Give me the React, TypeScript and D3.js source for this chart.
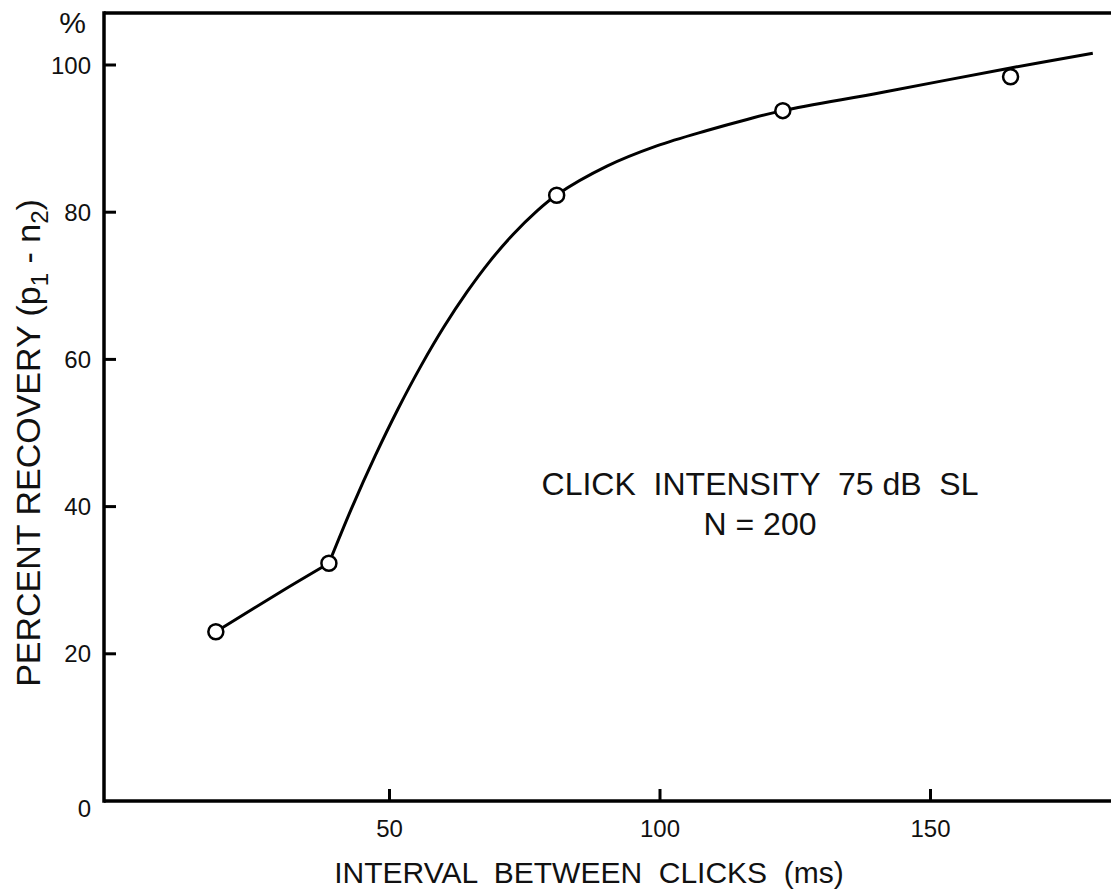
import React from "react";
import * as d3 from "d3";

// Measured data points (interval ms, percent recovery)
const POINT_X = [17.9, 38.8, 80.9, 122.7, 164.8];
const POINT_Y = [23.0, 32.3, 82.3, 93.8, 98.4];

// Hand-fitted curve: lower segment and upper segment (kink at second point)
const CURVE_LOW_X = [17.9, 30.3, 38.8];
const CURVE_LOW_Y = [23.0, 28.6, 32.3];
const CURVE_HIGH_X = [38.8, 43.07, 47.32, 51.57, 55.82, 60.07, 64.33, 68.58, 72.83, 77.08, 80.96, 90.2, 99.4, 108.7, 116.1, 122.7, 141.2, 164.8, 180.0];
const CURVE_HIGH_Y = [32.3, 39.9, 46.85, 53.26, 59.12, 64.43, 69.17, 73.36, 76.98, 80.05, 82.37, 86.25, 89.0, 91.1, 92.6, 93.8, 96.3, 99.6, 101.6];

const X_TICKS = [50, 100, 150];
const Y_TICKS = [0, 20, 40, 60, 80, 100];

const FONT = "'Liberation Sans', Arial, Helvetica, sans-serif";

export default function App() {
  const W = 1111;
  const H = 893;
  const left = 104;
  const top = 13;
  const bottom = 801;
  const right = 1111;

  const x = d3.scaleLinear().domain([0, 150]).range([119, 930.5]);
  const y = d3.scaleLinear().domain([0, 100]).range([801, 65]);

  const toPts = (xs: number[], ys: number[]) => xs.map((v, i) => [v, ys[i]] as [number, number]);
  const line = d3
    .line<[number, number]>()
    .x((d) => x(d[0]))
    .y((d) => y(d[1]))
    .curve(d3.curveCatmullRom.alpha(0.5));

  const axisW = 3.5;

  return (
    <svg
      width={W}
      height={H}
      style={{ position: "absolute", left: 0, top: 0, background: "#fff" }}
      fontFamily={FONT}
    >
      <rect x={0} y={0} width={W} height={H} fill="#fff" />
      {/* frame */}
      <line x1={left} y1={top} x2={right} y2={top} stroke="#000" strokeWidth={axisW} />
      <line x1={left} y1={top - axisW / 2} x2={left} y2={bottom + axisW / 2} stroke="#000" strokeWidth={axisW} />
      <line x1={left} y1={bottom} x2={right} y2={bottom} stroke="#000" strokeWidth={axisW} />

      {/* y ticks */}
      {Y_TICKS.map((t) => (
        <g key={"y" + t}>
          {t > 0 && (
            <line x1={left} x2={left + 12} y1={y(t)} y2={y(t)} stroke="#000" strokeWidth={3} />
          )}
          <text
            x={91}
            y={t === 0 ? y(t) + 7 : y(t)}
            textAnchor="end"
            dominantBaseline="central"
            fontSize={24}
            fill="#111"
          >
            {t}
          </text>
        </g>
      ))}
      <text x={86} y={33} textAnchor="end" fontSize={30} fill="#111">
        %
      </text>

      {/* x ticks */}
      {X_TICKS.map((t) => (
        <g key={"x" + t}>
          <line x1={x(t)} x2={x(t)} y1={bottom} y2={bottom - 12} stroke="#000" strokeWidth={3} />
          <text x={x(t)} y={837} textAnchor="middle" fontSize={24} fill="#111">
            {t}
          </text>
        </g>
      ))}

      {/* axis titles */}
      <text x={589} y={883} textAnchor="middle" fontSize={30} fill="#111" style={{ whiteSpace: "pre" }}>
        {"INTERVAL  BETWEEN  CLICKS  (ms)"}
      </text>
      <text
        transform="translate(40,443) rotate(-90)"
        textAnchor="middle"
        fontSize={34}
        fill="#111"
      >
        PERCENT RECOVERY (p
        <tspan fontSize={24} dy={8}>1</tspan>
        <tspan dy={-8}> - n</tspan>
        <tspan fontSize={24} dy={8}>2</tspan>
        <tspan dy={-8}>)</tspan>
      </text>

      {/* annotation */}
      <text x={760} y={495} textAnchor="middle" fontSize={32} fill="#111" style={{ whiteSpace: "pre" }}>
        {"CLICK  INTENSITY  75 dB  SL"}
      </text>
      <text x={760} y={535} textAnchor="middle" fontSize={32} fill="#111">
        N = 200
      </text>

      {/* curve */}
      <path d={line(toPts(CURVE_LOW_X, CURVE_LOW_Y)) || ""} fill="none" stroke="#000" strokeWidth={3} />
      <path d={line(toPts(CURVE_HIGH_X, CURVE_HIGH_Y)) || ""} fill="none" stroke="#000" strokeWidth={3} />

      {/* points */}
      {POINT_X.map((v, i) => (
        <circle key={i} cx={x(v)} cy={y(POINT_Y[i])} r={7.5} fill="#fff" stroke="#000" strokeWidth={2.5} />
      ))}
    </svg>
  );
}
